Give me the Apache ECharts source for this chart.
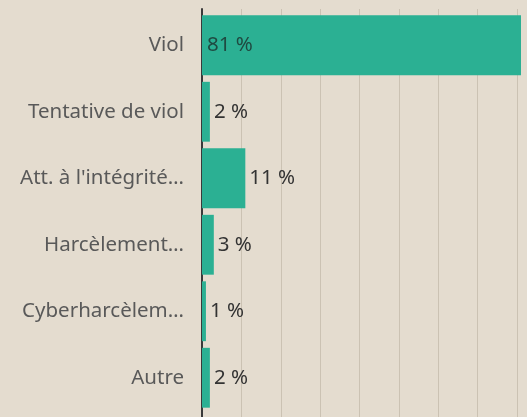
<!DOCTYPE html>
<html><head><meta charset="utf-8">
<script src="https://cdn.jsdelivr.net/npm/echarts@6/dist/echarts.min.js"></script>
<style>html,body{margin:0;padding:0;background:#e4dccf;}#c{width:527px;height:417px;}</style>
</head><body><div id="c"></div>
<script>
const categories = ["Viol", "Tentative de viol", "Att. à l'intégrité…", "Harcèlement…", "Cyberharcèlem…", "Autre"];
const values = [81, 2, 11, 3, 1, 2];
const labelInside = [true, false, false, false, false, false];

const chart = echarts.init(document.getElementById('c'));
chart.setOption({
  backgroundColor: '#e4dccf',
  animation: false,
  grid: [
    {left: 202, right: 6, top: 12, bottom: 6, containLabel: false},
    {left: 202, right: 6, top: 9, bottom: 0, containLabel: false}
  ],
  xAxis: [{
    type: 'value', min: 0, max: 81, interval: 10, gridIndex: 0,
    axisLabel: {show: false}, axisLine: {show: false}, axisTick: {show: false},
    splitLine: {show: false}
  }, {
    type: 'value', min: 0, max: 81, interval: 10, gridIndex: 1,
    axisLabel: {show: false}, axisLine: {show: false}, axisTick: {show: false},
    splitLine: {show: true, showMinLine: false, showMaxLine: false, lineStyle: {color: '#cbc2b3', width: 1}}
  }],
  yAxis: [{
    type: 'category', data: categories, inverse: true, gridIndex: 0,
    axisLine: {show: false},
    axisTick: {show: false},
    axisLabel: {color: '#595959', fontFamily: 'Noto Sans', fontSize: 20.5, margin: 18}
  }, {
    type: 'value', gridIndex: 1, min: 0, max: 1,
    axisLine: {show: true, lineStyle: {color: '#3a3a3a', width: 2}},
    axisTick: {show: false}, axisLabel: {show: false}, splitLine: {show: false}
  }],
  series: [{
    type: 'bar', barCategoryGap: '10%', xAxisIndex: 0, yAxisIndex: 0,
    itemStyle: {color: '#2bb093'},
    data: values.map((v, i) => ({
      value: v,
      label: {
        show: true,
        position: labelInside[i] ? 'insideLeft' : 'right',
        distance: labelInside[i] ? 5 : 4,
        formatter: '{c} %',
        color: labelInside[i] ? '#1f4a41' : '#333',
        fontFamily: 'Noto Sans', fontSize: 20.5
      }
    }))
  }]
});
</script></body></html>
